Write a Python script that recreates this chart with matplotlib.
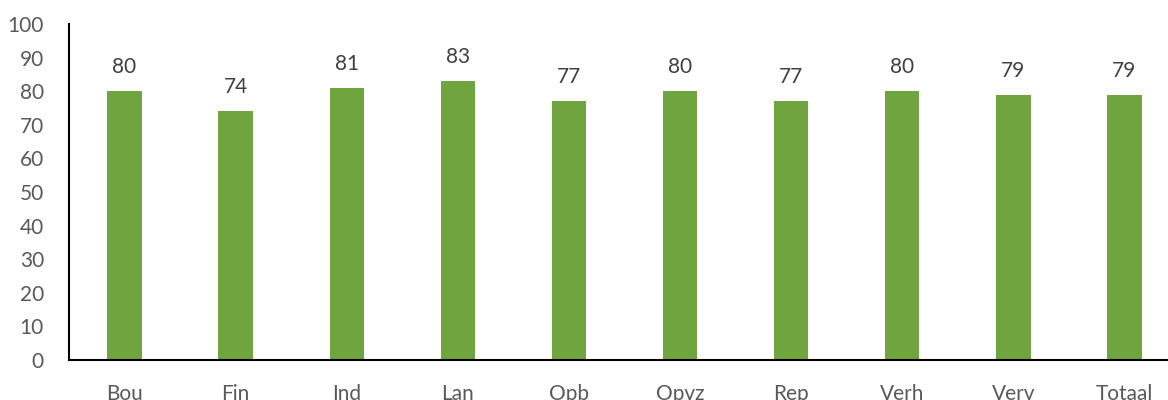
import matplotlib
matplotlib.use("Agg")
import matplotlib.pyplot as plt

categories = ['Bou', 'Fin', 'Ind', 'Lan', 'Opb', 'Opvz', 'Rep', 'Verh', 'Verv', 'Totaal']
values = [80, 74, 81, 83, 77, 80, 77, 80, 79, 79]

plt.rcParams['font.family'] = ['Lato', 'DejaVu Sans']

fig = plt.figure(figsize=(11.68, 4.0), dpi=100)
# plot area runs slightly past the right edge of the figure, as in the original
ax = fig.add_axes([69 / 1168, 0.1, 1111 / 1168, 0.84])

x = range(len(categories))
bars = ax.bar(x, values, width=0.31, color='#70A43F')

for b, v in zip(bars, values):
    ax.annotate(str(v), (b.get_x() + b.get_width() / 2, v),
                xytext=(0, 10), textcoords='offset points',
                ha='center', va='bottom', fontsize=15, color='#404040')

ax.set_xlim(-0.5, len(categories) - 0.5)
ax.set_ylim(0, 100)
ax.set_yticks(range(0, 101, 10))
ax.set_xticks(list(x))
ax.set_xticklabels(categories)
ax.tick_params(axis='both', length=0, labelsize=15, colors='#595959')
ax.tick_params(axis='y', pad=18)
ax.tick_params(axis='x', pad=17)
ax.spines['top'].set_visible(False)
ax.spines['right'].set_visible(False)
ax.spines['left'].set_linewidth(1.5)
ax.spines['bottom'].set_linewidth(1.5)

fig.savefig('out.png', dpi=100)
